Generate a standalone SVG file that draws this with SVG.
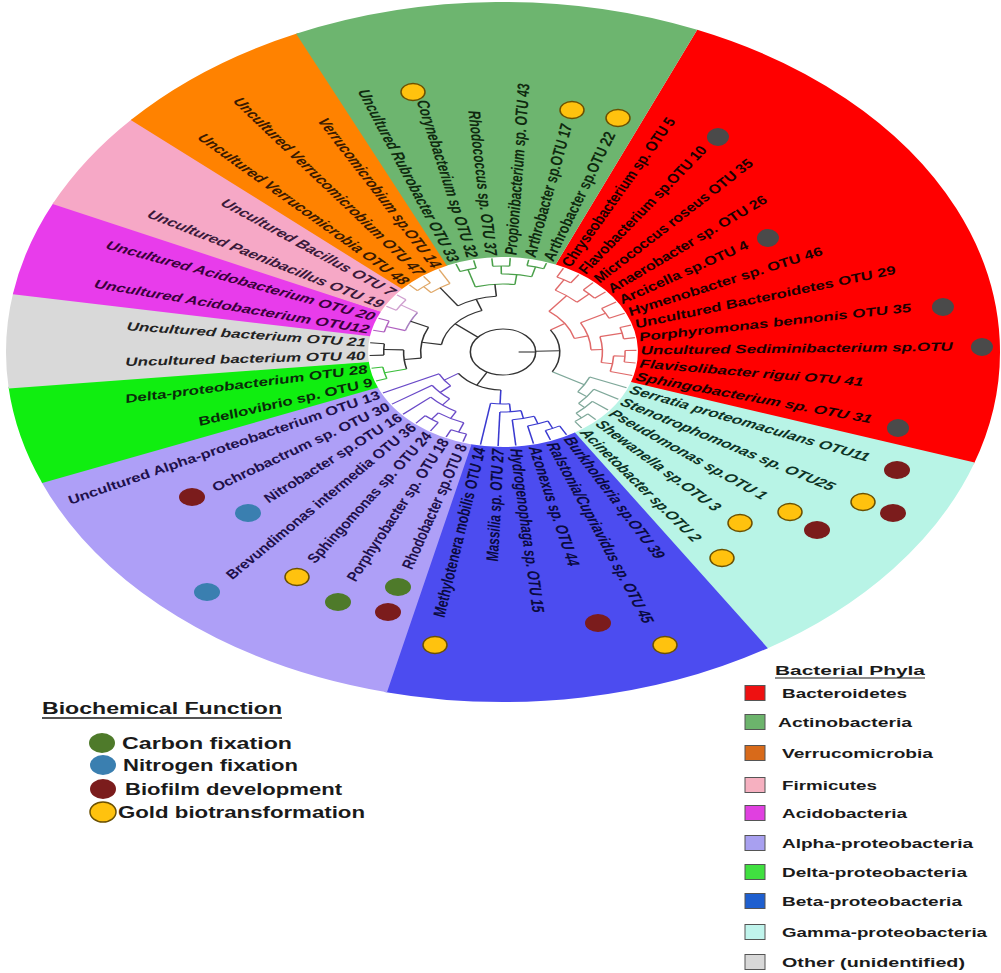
<svg xmlns="http://www.w3.org/2000/svg" width="1001" height="973" viewBox="0 0 1001 973">
<style>
.sec{fill:none;stroke-width:255}
.br{fill:none;stroke-width:1.1}
.lbl{font-family:"Liberation Sans",Arial,sans-serif;font-weight:bold;font-style:italic;font-size:12px}
.rt{text-anchor:start}
.lt{text-anchor:end}
.gold{fill:#ffc20e;stroke:#6b5000;stroke-width:1.5}
.bio{fill:#7b1c1c}
.dk{fill:#4a4a4a}
.car{fill:#4e7a2a}
.nit{fill:#3a7fb0}
.leg{font-family:"Liberation Sans",Arial,sans-serif;font-weight:bold;fill:#1a1a1a}
.sw{stroke:#555;stroke-width:1}
</style>
<rect width="1001" height="973" fill="#ffffff"/>
<g id="sectors" transform="translate(503,352) scale(1.42,1)">
<circle class="sec" r="222.5" pathLength="360" stroke="#ff0000" stroke-dasharray="85.7 360" transform="rotate(-67)"/>
<circle class="sec" r="222.5" pathLength="360" stroke="#b8f4e6" stroke-dasharray="39.7 360" transform="rotate(18.4)"/>
<circle class="sec" r="222.5" pathLength="360" stroke="#4c4cf0" stroke-dasharray="46 360" transform="rotate(57.8)"/>
<circle class="sec" r="222.5" pathLength="360" stroke="#ae9ff7" stroke-dasharray="54.8 360" transform="rotate(103.5)"/>
<circle class="sec" r="222.5" pathLength="360" stroke="#10ee10" stroke-dasharray="16.3 360" transform="rotate(158)"/>
<circle class="sec" r="222.5" pathLength="360" stroke="#d9d9d9" stroke-dasharray="15.8 360" transform="rotate(174)"/>
<circle class="sec" r="222.5" pathLength="360" stroke="#e83ceb" stroke-dasharray="15.8 360" transform="rotate(189.5)"/>
<circle class="sec" r="222.5" pathLength="360" stroke="#f6a8c6" stroke-dasharray="16.8 360" transform="rotate(205)"/>
<circle class="sec" r="222.5" pathLength="360" stroke="#ff8200" stroke-dasharray="24.2 360" transform="rotate(221.5)"/>
<circle class="sec" r="222.5" pathLength="360" stroke="#6db56f" stroke-dasharray="47.6 360" transform="rotate(245.4)"/>
</g>
<g id="connectors" transform="translate(503,352) scale(1.42,1)">
<g class="br" stroke="#e06a6a">
<path d="M84 0H94" transform="rotate(-63.1)"/><path d="M84 0H94" transform="rotate(-55.4)"/>
<circle r="84" pathLength="360" stroke-dasharray="7.7 360" transform="rotate(-63.1)"/>
<path d="M84 0H94" transform="rotate(-47.6)"/><path d="M84 0H94" transform="rotate(-39.8)"/>
<circle r="84" pathLength="360" stroke-dasharray="7.8 360" transform="rotate(-47.6)"/>
<path d="M72 0H84" transform="rotate(-59.25)"/><path d="M72 0H84" transform="rotate(-43.7)"/>
<circle r="72" pathLength="360" stroke-dasharray="15.55 360" transform="rotate(-59.25)"/>
<path d="M82 0H94" transform="rotate(-32.1)"/><path d="M82 0H94" transform="rotate(-24.3)"/>
<circle r="82" pathLength="360" stroke-dasharray="7.8 360" transform="rotate(-32.1)"/>
<path d="M86 0H94" transform="rotate(-16.6)"/><path d="M86 0H94" transform="rotate(-8.8)"/>
<circle r="86" pathLength="360" stroke-dasharray="7.8 360" transform="rotate(-16.6)"/>
<path d="M86 0H94" transform="rotate(-1)"/><path d="M86 0H94" transform="rotate(6.7)"/>
<circle r="86" pathLength="360" stroke-dasharray="7.7 360" transform="rotate(-1)"/>
<path d="M78 0H86" transform="rotate(2.85)"/><path d="M78 0H94" transform="rotate(14.5)"/>
<circle r="78" pathLength="360" stroke-dasharray="11.65 360" transform="rotate(2.85)"/>
<path d="M70 0H86" transform="rotate(-12.7)"/><path d="M70 0H78" transform="rotate(8.675)"/>
<circle r="70" pathLength="360" stroke-dasharray="21.375 360" transform="rotate(-12.7)"/>
<path d="M62 0H82" transform="rotate(-28.2)"/><path d="M62 0H70" transform="rotate(-2.01)"/>
<circle r="62" pathLength="360" stroke-dasharray="26.19 360" transform="rotate(-28.2)"/>
<path d="M52 0H72" transform="rotate(-51.5)"/><path d="M52 0H62" transform="rotate(-15.1)"/>
<circle r="52" pathLength="360" stroke-dasharray="36.4 360" transform="rotate(-51.5)"/>
<path d="M40 0H52" transform="rotate(-33.3)"/>
</g>
<g class="br" stroke="#7fa89a">
<path d="M86 0H94" transform="rotate(46)"/><path d="M86 0H94" transform="rotate(53.9)"/>
<circle r="86" pathLength="360" stroke-dasharray="7.9 360" transform="rotate(46)"/>
<path d="M80 0H94" transform="rotate(38.1)"/><path d="M80 0H86" transform="rotate(49.95)"/>
<circle r="80" pathLength="360" stroke-dasharray="11.85 360" transform="rotate(38.1)"/>
<path d="M74 0H94" transform="rotate(30.2)"/><path d="M74 0H80" transform="rotate(44.03)"/>
<circle r="74" pathLength="360" stroke-dasharray="13.83 360" transform="rotate(30.2)"/>
<path d="M66 0H94" transform="rotate(22.3)"/><path d="M66 0H74" transform="rotate(37.1)"/>
<circle r="66" pathLength="360" stroke-dasharray="14.8 360" transform="rotate(22.3)"/>
<path d="M40 0H66" transform="rotate(29.7)"/>
</g>
<g class="br" stroke="#3a3ad0">
<path d="M84 0H94" transform="rotate(61.6)"/><path d="M84 0H94" transform="rotate(69.2)"/>
<circle r="84" pathLength="360" stroke-dasharray="7.6 360" transform="rotate(61.6)"/>
<path d="M76 0H94" transform="rotate(76.8)"/><path d="M76 0H84" transform="rotate(65.4)"/>
<circle r="76" pathLength="360" stroke-dasharray="11.4 360" transform="rotate(65.4)"/>
<path d="M68 0H94" transform="rotate(84.5)"/><path d="M68 0H76" transform="rotate(71.1)"/>
<circle r="68" pathLength="360" stroke-dasharray="13.4 360" transform="rotate(71.1)"/>
<path d="M60 0H94" transform="rotate(92.1)"/><path d="M60 0H68" transform="rotate(77.8)"/>
<circle r="60" pathLength="360" stroke-dasharray="14.3 360" transform="rotate(77.8)"/>
<path d="M52 0H94" transform="rotate(99.7)"/><path d="M52 0H60" transform="rotate(84.95)"/>
<circle r="52" pathLength="360" stroke-dasharray="14.75 360" transform="rotate(84.95)"/>
<path d="M38 0H52" transform="rotate(92.3)"/>
</g>
<g class="br" stroke="#6a4ac8">
<path d="M86 0H94" transform="rotate(107.4)"/><path d="M86 0H94" transform="rotate(115.2)"/>
<circle r="86" pathLength="360" stroke-dasharray="7.8 360" transform="rotate(107.4)"/>
<path d="M84 0H94" transform="rotate(122.9)"/><path d="M84 0H94" transform="rotate(130.7)"/>
<circle r="84" pathLength="360" stroke-dasharray="7.8 360" transform="rotate(122.9)"/>
<path d="M76 0H86" transform="rotate(111.3)"/><path d="M76 0H84" transform="rotate(126.8)"/>
<circle r="76" pathLength="360" stroke-dasharray="15.5 360" transform="rotate(111.3)"/>
<path d="M68 0H94" transform="rotate(138.5)"/><path d="M68 0H76" transform="rotate(119.05)"/>
<circle r="68" pathLength="360" stroke-dasharray="19.45 360" transform="rotate(119.05)"/>
<path d="M60 0H94" transform="rotate(146.3)"/><path d="M60 0H68" transform="rotate(128.8)"/>
<circle r="60" pathLength="360" stroke-dasharray="17.5 360" transform="rotate(128.8)"/>
<path d="M50 0H94" transform="rotate(154.1)"/><path d="M50 0H60" transform="rotate(137.55)"/>
<circle r="50" pathLength="360" stroke-dasharray="16.55 360" transform="rotate(137.55)"/>
<path d="M38 0H50" transform="rotate(145.8)"/>
</g>
<g class="br" stroke="#3cbf3c">
<path d="M86 0H94" transform="rotate(162)"/><path d="M86 0H94" transform="rotate(170)"/>
<circle r="86" pathLength="360" stroke-dasharray="8 360" transform="rotate(162)"/>
<path d="M70 0H86" transform="rotate(166)"/>
</g>
<g class="br" stroke="#b060c0">
<path d="M86 0H94" transform="rotate(193.4)"/><path d="M86 0H94" transform="rotate(201.1)"/>
<circle r="86" pathLength="360" stroke-dasharray="7.7 360" transform="rotate(193.4)"/>
<path d="M72 0H86" transform="rotate(197.25)"/>
</g>
<g class="br" stroke="#d0a0d0">
<path d="M86 0H94" transform="rotate(209.1)"/><path d="M86 0H94" transform="rotate(217.4)"/>
<circle r="86" pathLength="360" stroke-dasharray="8.3 360" transform="rotate(209.1)"/>
<path d="M72 0H86" transform="rotate(213.25)"/>
<circle r="72" pathLength="360" stroke-dasharray="16 360" transform="rotate(197.25)" stroke="#a880c0"/>
</g>
<g class="br" stroke="#e0a868">
<path d="M86 0H94" transform="rotate(225.5)"/><path d="M86 0H94" transform="rotate(233.5)"/>
<circle r="86" pathLength="360" stroke-dasharray="8 360" transform="rotate(225.5)"/>
<path d="M78 0H94" transform="rotate(241.4)"/><path d="M78 0H86" transform="rotate(229.5)"/>
<circle r="78" pathLength="360" stroke-dasharray="11.9 360" transform="rotate(229.5)"/>
</g>
<g class="br" stroke="#4aa04a">
<path d="M86 0H94" transform="rotate(249.4)"/><path d="M86 0H94" transform="rotate(257.3)"/>
<circle r="86" pathLength="360" stroke-dasharray="7.9 360" transform="rotate(249.4)"/>
<path d="M86 0H94" transform="rotate(265.2)"/><path d="M86 0H94" transform="rotate(273.1)"/>
<circle r="86" pathLength="360" stroke-dasharray="7.9 360" transform="rotate(265.2)"/>
<path d="M88 0H94" transform="rotate(281.1)"/><path d="M88 0H94" transform="rotate(289)"/>
<circle r="88" pathLength="360" stroke-dasharray="7.9 360" transform="rotate(281.1)"/>
<path d="M78 0H86" transform="rotate(269.15)"/><path d="M78 0H88" transform="rotate(285.05)"/>
<circle r="78" pathLength="360" stroke-dasharray="15.9 360" transform="rotate(269.15)"/>
<path d="M68 0H86" transform="rotate(253.35)"/><path d="M68 0H78" transform="rotate(277.1)"/>
<circle r="68" pathLength="360" stroke-dasharray="23.75 360" transform="rotate(253.35)"/>
</g>
<g class="br" stroke="#333333">
<path d="M84 0H94" transform="rotate(177.9)"/><path d="M84 0H94" transform="rotate(185.6)"/>
<circle r="84" pathLength="360" stroke-dasharray="7.7 360" transform="rotate(177.9)"/>
<path d="M70 0H84" transform="rotate(181.75)"/>
<circle r="70" pathLength="360" stroke-dasharray="15.75 360" transform="rotate(166)"/>
<path d="M58 0H70" transform="rotate(173.9)"/><path d="M58 0H72" transform="rotate(205.25)"/>
<circle r="58" pathLength="360" stroke-dasharray="31.35 360" transform="rotate(173.9)"/>
<path d="M56 0H78" transform="rotate(235.45)"/><path d="M56 0H68" transform="rotate(265.2)"/>
<circle r="56" pathLength="360" stroke-dasharray="29.75 360" transform="rotate(235.45)"/>
<path d="M44 0H58" transform="rotate(189.6)"/><path d="M44 0H56" transform="rotate(250.3)"/>
<circle r="44" pathLength="360" stroke-dasharray="60.7 360" transform="rotate(189.6)"/>
<circle r="40" pathLength="360" stroke-dasharray="63 360" transform="rotate(-33.3)"/>
<circle r="38" pathLength="360" stroke-dasharray="53.5 360" transform="rotate(92.3)"/>
<path d="M23 0H40" transform="rotate(-1.8)"/>
<path d="M23 0H38" transform="rotate(119.05)"/>
<path d="M23 0H44" transform="rotate(220)"/>
<circle r="23"/>
<path d="M11 0H23"/>
</g>
</g>
<g id="n-R0"><text class="lbl rt" fill="#1a0000" dy="0.35em" transform="translate(503,352) scale(1.42,1) rotate(-63.1) translate(97,0)">Chryseobacterium sp. OTU 5</text></g>
<g id="n-R1"><text class="lbl rt" fill="#1a0000" dy="0.35em" transform="translate(503,352) scale(1.42,1) rotate(-55.4) translate(97,0)">Flavobacterium sp.OTU 10</text><ellipse class="dk" cx="718" cy="137" rx="11" ry="9"/></g>
<g id="n-R2"><text class="lbl rt" fill="#1a0000" dy="0.35em" transform="translate(503,352) scale(1.42,1) rotate(-47.6) translate(97,0)">Micrococcus roseus OTU 35</text></g>
<g id="n-R3"><text class="lbl rt" fill="#1a0000" dy="0.35em" transform="translate(503,352) scale(1.42,1) rotate(-39.8) translate(97,0)">Anaerobacter sp. OTU 26</text></g>
<g id="n-R4"><text class="lbl rt" fill="#1a0000" dy="0.35em" transform="translate(503,352) scale(1.42,1) rotate(-32.1) translate(97,0)">Arcicella sp.OTU 4</text><ellipse class="dk" cx="768" cy="238" rx="11" ry="9"/></g>
<g id="n-R5"><text class="lbl rt" fill="#1a0000" dy="0.35em" transform="translate(503,352) scale(1.42,1) rotate(-24.3) translate(97,0)">Hymenobacter sp. OTU 46</text></g>
<g id="n-R6"><text class="lbl rt" fill="#1a0000" dy="0.35em" transform="translate(503,352) scale(1.42,1) rotate(-16.6) translate(97,0)">Uncultured Bacteroidetes OTU 29</text></g>
<g id="n-R7"><text class="lbl rt" fill="#1a0000" dy="0.35em" transform="translate(503,352) scale(1.42,1) rotate(-8.8) translate(97,0)">Porphyromonas bennonis OTU 35</text><ellipse class="dk" cx="943" cy="307" rx="11" ry="9"/></g>
<g id="n-R8"><text class="lbl rt" fill="#1a0000" dy="0.35em" transform="translate(503,352) scale(1.42,1) rotate(-1) translate(97,0)">Uncultured Sediminibacterium sp.OTU</text><ellipse class="dk" cx="982" cy="347" rx="11" ry="9"/></g>
<g id="n-R9"><text class="lbl rt" fill="#1a0000" dy="0.35em" transform="translate(503,352) scale(1.42,1) rotate(6.7) translate(97,0)">Flavisolibacter rigui OTU 41</text></g>
<g id="n-R10"><text class="lbl rt" fill="#1a0000" dy="0.35em" transform="translate(503,352) scale(1.42,1) rotate(14.5) translate(97,0)">Sphingobacterium sp. OTU 31</text><ellipse class="dk" cx="898" cy="428" rx="11" ry="9"/></g>
<g id="n-G0"><text class="lbl rt" fill="#0d3325" dy="0.35em" transform="translate(503,352) scale(1.42,1) rotate(22.3) translate(97,0)">Serratia proteomaculans OTU11</text><ellipse class="bio" cx="897" cy="470" rx="13" ry="9"/></g>
<g id="n-G1"><text class="lbl rt" fill="#0d3325" dy="0.35em" transform="translate(503,352) scale(1.42,1) rotate(30.2) translate(97,0)">Stenotrophomonas sp. OTU25</text><ellipse class="gold" cx="863" cy="502" rx="12" ry="8.5"/><ellipse class="bio" cx="893" cy="513" rx="13" ry="9"/></g>
<g id="n-G2"><text class="lbl rt" fill="#0d3325" dy="0.35em" transform="translate(503,352) scale(1.42,1) rotate(38.1) translate(97,0)">Pseudomonas sp.OTU 1</text><ellipse class="gold" cx="790" cy="512" rx="12" ry="8.5"/><ellipse class="bio" cx="817" cy="530" rx="13" ry="9"/></g>
<g id="n-G3"><text class="lbl rt" fill="#0d3325" dy="0.35em" transform="translate(503,352) scale(1.42,1) rotate(46) translate(97,0)">Shewanella sp.OTU 3</text><ellipse class="gold" cx="740" cy="523" rx="12" ry="8.5"/></g>
<g id="n-G4"><text class="lbl rt" fill="#0d3325" dy="0.35em" transform="translate(503,352) scale(1.42,1) rotate(53.9) translate(97,0)">Acinetobacter sp.OTU 2</text><ellipse class="gold" cx="722" cy="558" rx="12" ry="8.5"/></g>
<g id="n-B0"><text class="lbl rt" fill="#0a0a40" dy="0.35em" transform="translate(503,352) scale(1.42,1) rotate(61.6) translate(97,0)">Burkholderia sp.OTU 39</text></g>
<g id="n-B1"><text class="lbl rt" fill="#0a0a40" dy="0.35em" transform="translate(503,352) scale(1.42,1) rotate(69.2) translate(97,0)">Ralstonia/Cupriavidus sp. OTU 45</text><ellipse class="gold" cx="665" cy="645" rx="12" ry="8.5"/></g>
<g id="n-B2"><text class="lbl rt" fill="#0a0a40" dy="0.35em" transform="translate(503,352) scale(1.42,1) rotate(76.8) translate(97,0)">Azonexus sp. OTU 44</text><ellipse class="bio" cx="598" cy="623" rx="13" ry="9"/></g>
<g id="n-B3"><text class="lbl rt" fill="#0a0a40" dy="0.35em" transform="translate(503,352) scale(1.42,1) rotate(84.5) translate(97,0)">Hydrogenophaga sp. OTU 15</text></g>
<g id="n-B4"><text class="lbl lt" fill="#0a0a40" dy="0.35em" transform="translate(503,352) scale(1.42,1) rotate(-87.9) translate(-97,0)">Massilia sp. OTU 27</text></g>
<g id="n-B5"><text class="lbl lt" fill="#0a0a40" dy="0.35em" transform="translate(503,352) scale(1.42,1) rotate(-80.3) translate(-97,0)">Methylotenera mobilis OTU 14</text><ellipse class="gold" cx="435" cy="645" rx="12" ry="8.5"/></g>
<g id="n-A0"><text class="lbl lt" fill="#20104a" dy="0.35em" transform="translate(503,352) scale(1.42,1) rotate(-72.6) translate(-97,0)">Rhodobacter sp.OTU 8</text><ellipse class="car" cx="398" cy="587" rx="13" ry="9"/><ellipse class="bio" cx="388" cy="612" rx="13" ry="9"/></g>
<g id="n-A1"><text class="lbl lt" fill="#20104a" dy="0.35em" transform="translate(503,352) scale(1.42,1) rotate(-64.8) translate(-97,0)">Porphyrobacter sp. OTU 18</text><ellipse class="car" cx="338" cy="602" rx="13" ry="9"/></g>
<g id="n-A2"><text class="lbl lt" fill="#20104a" dy="0.35em" transform="translate(503,352) scale(1.42,1) rotate(-57.1) translate(-97,0)">Sphingomonas sp. OTU 24</text><ellipse class="gold" cx="297" cy="577" rx="12" ry="8.5"/></g>
<g id="n-A3"><text class="lbl lt" fill="#20104a" dy="0.35em" transform="translate(503,352) scale(1.42,1) rotate(-49.3) translate(-97,0)">Brevundimonas intermedia OTU 36</text><ellipse class="nit" cx="207" cy="592" rx="13" ry="9"/></g>
<g id="n-A4"><text class="lbl lt" fill="#20104a" dy="0.35em" transform="translate(503,352) scale(1.42,1) rotate(-41.5) translate(-97,0)">Nitrobacter sp.OTU 16</text><ellipse class="nit" cx="248" cy="513" rx="13" ry="9"/></g>
<g id="n-A5"><text class="lbl lt" fill="#20104a" dy="0.35em" transform="translate(503,352) scale(1.42,1) rotate(-33.7) translate(-97,0)">Ochrobactrum sp. OTU 30</text><ellipse class="bio" cx="192" cy="497" rx="13" ry="9"/></g>
<g id="n-A6"><text class="lbl lt" fill="#20104a" dy="0.35em" transform="translate(503,352) scale(1.42,1) rotate(-25.9) translate(-97,0)">Uncultured Alpha-proteobacterium OTU 13</text></g>
<g id="n-D0"><text class="lbl lt" fill="#0a2a0a" dy="0.35em" transform="translate(503,352) scale(1.42,1) rotate(-18) translate(-97,0)">Bdellovibrio sp. OTU 9</text></g>
<g id="n-D1"><text class="lbl lt" fill="#0a2a0a" dy="0.35em" transform="translate(503,352) scale(1.42,1) rotate(-10) translate(-97,0)">Delta-proteobacterium OTU 28</text></g>
<g id="n-X0"><text class="lbl lt" fill="#222222" dy="0.35em" transform="translate(503,352) scale(1.42,1) rotate(-2.1) translate(-97,0)">Uncultured bacterium OTU 40</text></g>
<g id="n-X1"><text class="lbl lt" fill="#222222" dy="0.35em" transform="translate(503,352) scale(1.42,1) rotate(5.6) translate(-97,0)">Uncultured bacterium OTU 21</text></g>
<g id="n-M0"><text class="lbl lt" fill="#3a003a" dy="0.35em" transform="translate(503,352) scale(1.42,1) rotate(13.4) translate(-97,0)">Uncultured Acidobacterium OTU12</text></g>
<g id="n-M1"><text class="lbl lt" fill="#3a003a" dy="0.35em" transform="translate(503,352) scale(1.42,1) rotate(21.1) translate(-97,0)">Uncultured Acidobacterium OTU 20</text></g>
<g id="n-P0"><text class="lbl lt" fill="#3a1a3a" dy="0.35em" transform="translate(503,352) scale(1.42,1) rotate(29.1) translate(-97,0)">Uncultured Paenibacillus OTU 19</text></g>
<g id="n-P1"><text class="lbl lt" fill="#3a1a3a" dy="0.35em" transform="translate(503,352) scale(1.42,1) rotate(37.4) translate(-97,0)">Uncultured Bacillus OTU 7</text></g>
<g id="n-O0"><text class="lbl lt" fill="#3a1a00" dy="0.35em" transform="translate(503,352) scale(1.42,1) rotate(45.5) translate(-97,0)">Uncultured Verrucomicrobia OTU 48</text></g>
<g id="n-O1"><text class="lbl lt" fill="#3a1a00" dy="0.35em" transform="translate(503,352) scale(1.42,1) rotate(53.5) translate(-97,0)">Uncultured Verrucomicrobium OTU 47</text></g>
<g id="n-O2"><text class="lbl lt" fill="#3a1a00" dy="0.35em" transform="translate(503,352) scale(1.42,1) rotate(61.4) translate(-97,0)">Verrucomicrobium sp.OTU 14</text></g>
<g id="n-C0"><text class="lbl lt" fill="#0f2a0f" dy="0.35em" transform="translate(503,352) scale(1.42,1) rotate(69.4) translate(-97,0)">Uncultured Rubrobacter OTU 33</text></g>
<g id="n-C1"><text class="lbl lt" fill="#0f2a0f" dy="0.35em" transform="translate(503,352) scale(1.42,1) rotate(77.3) translate(-97,0)">Corynebacterium sp OTU 32</text><ellipse class="gold" cx="413" cy="92" rx="12" ry="8.5"/></g>
<g id="n-C2"><text class="lbl lt" fill="#0f2a0f" dy="0.35em" transform="translate(503,352) scale(1.42,1) rotate(85.2) translate(-97,0)">Rhodococcus sp. OTU 37</text></g>
<g id="n-C3"><text class="lbl rt" fill="#0f2a0f" dy="0.35em" transform="translate(503,352) scale(1.42,1) rotate(-86.9) translate(97,0)">Propionibacterium sp. OTU 43</text></g>
<g id="n-C4"><text class="lbl rt" fill="#0f2a0f" dy="0.35em" transform="translate(503,352) scale(1.42,1) rotate(-78.9) translate(97,0)">Arthrobacter sp.OTU 17</text><ellipse class="gold" cx="572" cy="110" rx="12" ry="8.5"/></g>
<g id="n-C5"><text class="lbl rt" fill="#0f2a0f" dy="0.35em" transform="translate(503,352) scale(1.42,1) rotate(-71) translate(97,0)">Arthrobacter sp.OTU 22</text><ellipse class="gold" cx="618" cy="118" rx="12" ry="8.5"/></g>
<g id="legend-function">
<text class="leg" x="42" y="714" font-size="16" textLength="240" lengthAdjust="spacingAndGlyphs">Biochemical Function</text>
<line x1="42" y1="718" x2="282" y2="718" stroke="#1a1a1a" stroke-width="1.5"/>
<ellipse class="car" cx="102" cy="743" rx="13" ry="10"/>
<text class="leg" x="122" y="749" font-size="16" textLength="170" lengthAdjust="spacingAndGlyphs">Carbon fixation</text>
<ellipse class="nit" cx="103" cy="765" rx="13" ry="10"/>
<text class="leg" x="123" y="771" font-size="16" textLength="175" lengthAdjust="spacingAndGlyphs">Nitrogen fixation</text>
<ellipse class="bio" cx="103" cy="789" rx="13" ry="10"/>
<text class="leg" x="125" y="795" font-size="16" textLength="217" lengthAdjust="spacingAndGlyphs">Biofilm development</text>
<ellipse class="gold" cx="103" cy="812" rx="13" ry="10"/>
<text class="leg" x="118" y="818" font-size="16" textLength="247" lengthAdjust="spacingAndGlyphs">Gold biotransformation</text>
</g>
<g id="legend-phyla">
<text class="leg" x="775" y="675" font-size="13" textLength="150" lengthAdjust="spacingAndGlyphs">Bacterial Phyla</text>
<line x1="775" y1="678" x2="925" y2="678" stroke="#1a1a1a" stroke-width="1.2"/>
<rect class="sw" x="745" y="685.5" width="20" height="15" fill="#ee1111"/>
<text class="leg" x="782" y="697.5" font-size="12" textLength="125" lengthAdjust="spacingAndGlyphs">Bacteroidetes</text>
<rect class="sw" x="745" y="714.5" width="20" height="15" fill="#6cb46c"/>
<text class="leg" x="778" y="726.5" font-size="12" textLength="134" lengthAdjust="spacingAndGlyphs">Actinobacteria</text>
<rect class="sw" x="745" y="745.5" width="20" height="15" fill="#d86a1a"/>
<text class="leg" x="782" y="757.5" font-size="12" textLength="151" lengthAdjust="spacingAndGlyphs">Verrucomicrobia</text>
<rect class="sw" x="745" y="777.5" width="20" height="15" fill="#f6b0c0"/>
<text class="leg" x="782" y="789.5" font-size="12" textLength="95" lengthAdjust="spacingAndGlyphs">Firmicutes</text>
<rect class="sw" x="745" y="805.5" width="20" height="15" fill="#e040e0"/>
<text class="leg" x="782" y="817.5" font-size="12" textLength="125" lengthAdjust="spacingAndGlyphs">Acidobacteria</text>
<rect class="sw" x="745" y="835.5" width="20" height="15" fill="#a8a0f0"/>
<text class="leg" x="782" y="847.5" font-size="12" textLength="191" lengthAdjust="spacingAndGlyphs">Alpha-proteobacteria</text>
<rect class="sw" x="745" y="864.5" width="20" height="15" fill="#40e040"/>
<text class="leg" x="782" y="876.5" font-size="12" textLength="185" lengthAdjust="spacingAndGlyphs">Delta-proteobacteria</text>
<rect class="sw" x="745" y="893.5" width="20" height="15" fill="#1e5fcf"/>
<text class="leg" x="782" y="905.5" font-size="12" textLength="180" lengthAdjust="spacingAndGlyphs">Beta-proteobacteria</text>
<rect class="sw" x="745" y="924.5" width="20" height="15" fill="#c0f4ec"/>
<text class="leg" x="782" y="936.5" font-size="12" textLength="205" lengthAdjust="spacingAndGlyphs">Gamma-proteobacteria</text>
<rect class="sw" x="745" y="954.5" width="20" height="15" fill="#d8d8d8"/>
<text class="leg" x="782" y="966.5" font-size="12" textLength="183" lengthAdjust="spacingAndGlyphs">Other (unidentified)</text>
</g>
</svg>
